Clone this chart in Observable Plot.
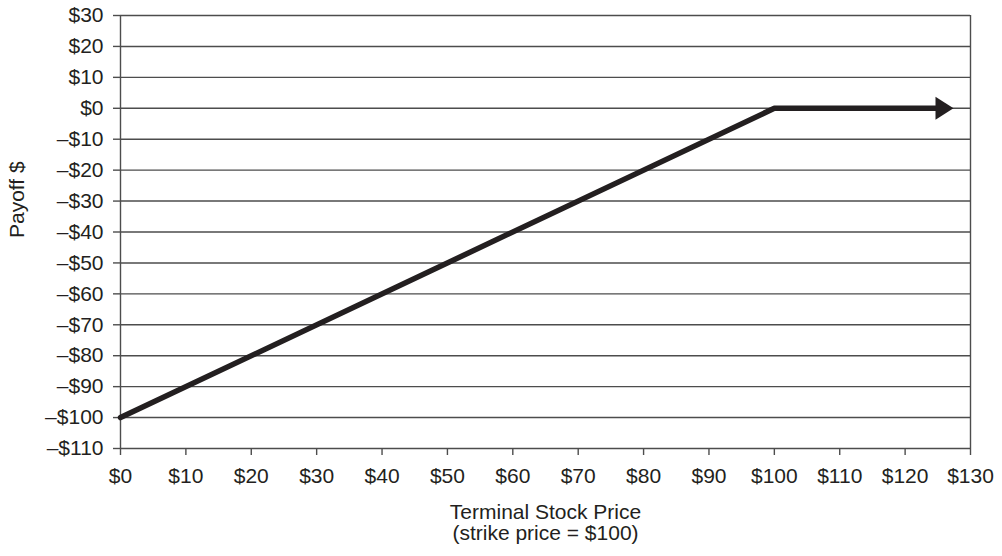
<!DOCTYPE html>
<html>
<head>
<meta charset="utf-8">
<script src="https://cdn.jsdelivr.net/npm/d3@7"></script>
<script src="https://cdn.jsdelivr.net/npm/@observablehq/plot@0.6"></script>
<style>
  html, body { margin: 0; padding: 0; background: #fff; }
  svg { display: block; }
</style>
</head>
<body>
<div id="chart"></div>
<script>
// Data
const stockPrices = [0, 100, 125];       // terminal stock price
const payoffs = [-100, 0, 0];            // payoff $
const arrowTipPrice = [127.4];
const arrowTipPayoff = [0];
const xTicks = d3.range(0, 131, 10);
const yTicks = d3.range(-110, 31, 10);
const xLabel = "Terminal Stock Price\n(strike price = $100)";
const yLabel = "Payoff $";

const fmt = d => d < 0 ? "\u2013$" + (-d) : "$" + d;
const payoffLine = stockPrices.map((p, i) => ({price: p, payoff: payoffs[i]}));
const arrowTip = arrowTipPrice.map((p, i) => ({price: p, payoff: arrowTipPayoff[i]}));

// arrowhead symbol: tip at the anchor point, pointing right
const arrowHead = {
  draw(context) {
    context.moveTo(0, 0);
    context.lineTo(-18, -11.5);
    context.lineTo(-18, 11.5);
    context.closePath();
  }
};

const ink = "#231f20";
const grid = "#4d4d4d";
const font = "'Liberation Sans', Arial, sans-serif";

const chart = Plot.plot({
  width: 1002,
  height: 556,
  marginLeft: 120,
  marginRight: 32,
  marginTop: 15,
  marginBottom: 108,
  style: {fontFamily: font, fontSize: "21px", color: ink, background: "#fff"},
  x: {domain: [0, 130], ticks: xTicks, tickFormat: fmt, label: null},
  y: {domain: [-110, 30], ticks: yTicks, tickFormat: fmt, label: null},
  marks: [
    Plot.ruleY(yTicks, {stroke: grid, strokeWidth: 1.4}),
    Plot.ruleX([0, 130], {stroke: grid, strokeWidth: 1.4}),
    Plot.axisY({ticks: yTicks, tickFormat: fmt, tickSize: 7, tickPadding: 10, stroke: grid, strokeWidth: 1.4, label: null, fill: ink, fontSize: 21}),
    Plot.axisX({ticks: xTicks, tickFormat: fmt, tickSize: 7, tickPadding: 13, stroke: grid, strokeWidth: 1.4, label: null, fill: ink, fontSize: 21}),
    Plot.line(payoffLine, {x: "price", y: "payoff", stroke: ink, strokeWidth: 5.5, strokeLinejoin: "miter"}),
    Plot.dot(arrowTip, {x: "price", y: "payoff", symbol: arrowHead, fill: ink, stroke: "none"}),
    Plot.text([xLabel], {frameAnchor: "bottom", dy: 56, lineAnchor: "top", lineHeight: 1.0, fill: ink, fontSize: 21}),
    Plot.text([yLabel], {frameAnchor: "left", dx: -103, dy: 6, rotate: -90, fill: ink, fontSize: 21})
  ]
});
document.getElementById("chart").append(chart);
</script>
</body>
</html>
